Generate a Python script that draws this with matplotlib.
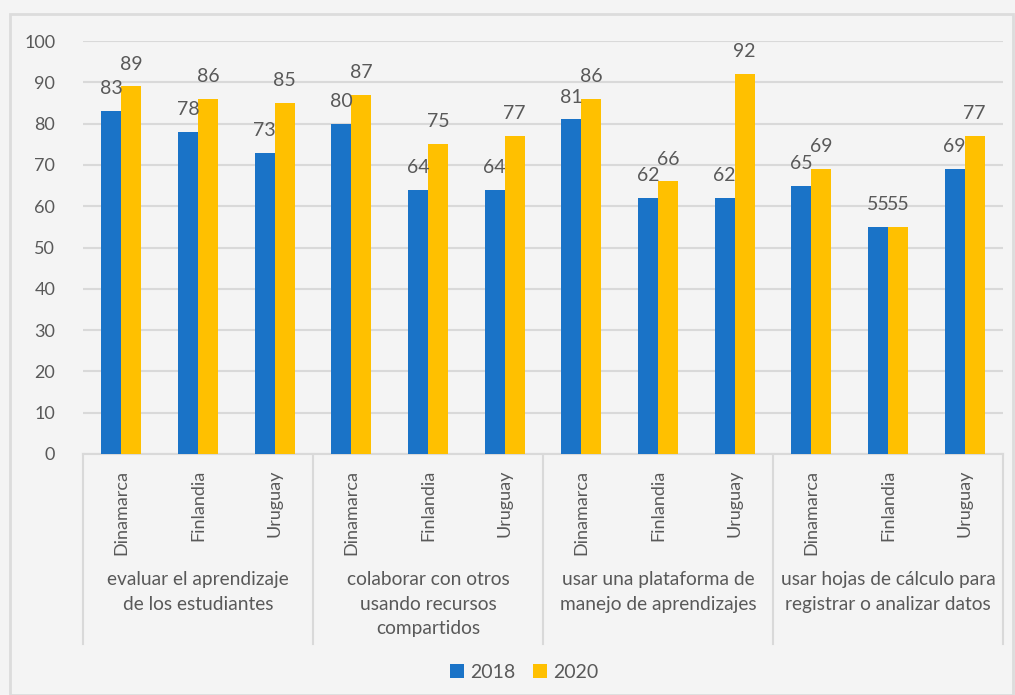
import matplotlib.pyplot as plt
import numpy as np
from matplotlib.patches import Rectangle

plt.rcParams['font.family'] = ['Lato', 'DejaVu Sans']

groups = ['evaluar el aprendizaje\nde los estudiantes',
          'colaborar con otros\nusando recursos\ncompartidos',
          'usar una plataforma de\nmanejo de aprendizajes',
          'usar hojas de cálculo para\nregistrar o analizar datos']
countries = ['Dinamarca', 'Finlandia', 'Uruguay']
vals_2018 = [83, 78, 73, 80, 64, 64, 81, 62, 62, 65, 55, 69]
vals_2020 = [89, 86, 85, 87, 75, 77, 86, 66, 92, 69, 55, 77]
yticks = [0, 10, 20, 30, 40, 50, 60, 70, 80, 90, 100]

bg = '#f4f4f4'
txt = '#595959'
grid = '#d9d9d9'
c18 = '#1a73c7'
c20 = '#ffc000'

W, H = 1015, 695
fig = plt.figure(figsize=(W / 100, H / 100), dpi=100, facecolor=bg)
# chart frame
fig.patches.append(Rectangle((10 / W, 0), 1003 / W, 1 - 14 / H, transform=fig.transFigure,
                             fill=False, edgecolor='#dcdcdc', lw=2))

ax = fig.add_axes([83 / W, 1 - 454 / H, 920 / W, 413 / H])
ax.set_facecolor(bg)

n = len(vals_2018)
x = np.arange(n)
bw = 0.26
b1 = ax.bar(x - bw / 2, vals_2018, bw, color=c18, label='2018', zorder=3)
b2 = ax.bar(x + bw / 2, vals_2020, bw, color=c20, label='2020', zorder=3)

for bars, vals in ((b1, vals_2018), (b2, vals_2020)):
    for b, v in zip(bars, vals):
        ax.annotate(str(v), (b.get_x() + b.get_width() / 2, v), xytext=(0, 10),
                    textcoords='offset points', ha='center', va='bottom',
                    fontsize=14, color=txt)

ax.set_xlim(-0.5, n - 0.5)
ax.set_ylim(0, 100)
ax.set_yticks(yticks)
ax.tick_params(axis='y', length=0, labelsize=13, labelcolor=txt, pad=20)
ax.set_xticks([])
ax.yaxis.grid(True, color=grid, lw=1.5, zorder=0)
for s in ('top', 'right', 'left'):
    ax.spines[s].set_visible(False)
ax.spines['bottom'].set_color(grid)
ax.spines['bottom'].set_linewidth(1.5)

# two-level category axis
trans = ax.get_xaxis_transform()
depth = -(644 - 454) / 413
for i in range(n):
    ax.text(i, -16 / 413, countries[i % 3], rotation=90, ha='center', va='top',
            fontsize=13, color=txt, transform=trans)
for g, label in enumerate(groups):
    ax.text(3 * g + 1, -117 / 413, label, ha='center', va='top', fontsize=13.8,
            color=txt, transform=trans, linespacing=1.55)
for k in range(len(groups) + 1):
    ax.plot([3 * k - 0.5] * 2, [0, depth], color=grid, lw=1.5, transform=trans,
            clip_on=False)

fig.legend(handles=[b1, b2], loc='center', bbox_to_anchor=(524 / W, 1 - 672 / H), ncol=2,
           frameon=False, fontsize=14, labelcolor=txt, handlelength=0.75,
           handleheight=0.75, handletextpad=0.3, columnspacing=0.9)

fig.savefig('out.png', dpi=100, facecolor=bg)
